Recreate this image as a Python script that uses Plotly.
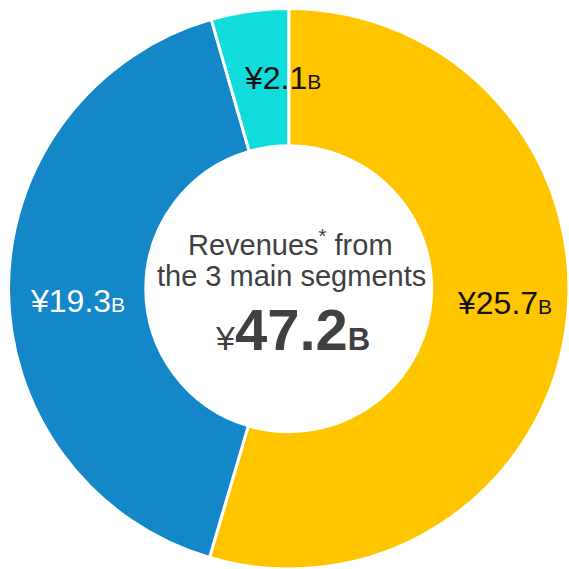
import plotly.graph_objects as go

segments = ["Segment A", "Segment B", "Segment C"]
revenues = [25.7, 19.3, 2.1]  # ¥ billions
total_label = "47.2"
colors = ["#FFC600", "#1487C8", "#10DCDC"]
label_colors = ["#111111", "#FFFFFF", "#111111"]
label_pos = [(504.5, 302.5), (77.5, 301), (282.5, 78)]  # pixel positions of slice labels

W = H = 569
FONT = "Liberation Sans, Arial, sans-serif"

fig = go.Figure(go.Pie(
    labels=segments,
    values=revenues,
    hole=0.51,
    sort=False,
    direction="clockwise",
    rotation=0,
    textinfo="none",
    marker=dict(colors=colors, line=dict(color="white", width=3)),
    domain=dict(x=[8.5 / W, 1.0], y=[0.0, 1 - 8.5 / H]),
    showlegend=False,
))

ann = []
for v, c, (px, py) in zip(revenues, label_colors, label_pos):
    ann.append(dict(
        x=px / W, y=1 - py / H, xref="paper", yref="paper",
        text=f"¥{v}<span style='font-size:21px'>B</span>",
        showarrow=False, xanchor="center", yanchor="middle",
        font=dict(family=FONT, size=32, color=c),
    ))

gray = "#404040"
ann.append(dict(x=290.5 / W, y=1 - 242.5 / H, xref="paper", yref="paper",
                text="Revenues<sup>*</sup> from", showarrow=False,
                xanchor="center", yanchor="middle",
                font=dict(family=FONT, size=29, color=gray)))
ann.append(dict(x=291 / W, y=1 - 276 / H, xref="paper", yref="paper",
                text="the 3 main segments", showarrow=False,
                xanchor="center", yanchor="middle",
                font=dict(family=FONT, size=29, color=gray)))
ann.append(dict(x=292 / W, y=1 - 329 / H, xref="paper", yref="paper",
                text=f"<span style='font-size:34px'>¥</span><b>{total_label}</b><b><span style='font-size:31px'>B</span></b>",
                showarrow=False, xanchor="center", yanchor="middle",
                font=dict(family=FONT, size=58, color=gray)))

fig.update_layout(
    width=W, height=H,
    margin=dict(l=0, r=0, t=0, b=0),
    paper_bgcolor="white", plot_bgcolor="white",
    annotations=ann,
)

fig.write_html(
    "out.html",
    config={"displayModeBar": False},
    post_script="document.body.style.margin='0px';"
                "document.body.style.overflow='hidden';"
                "document.documentElement.style.overflow='hidden';",
)
